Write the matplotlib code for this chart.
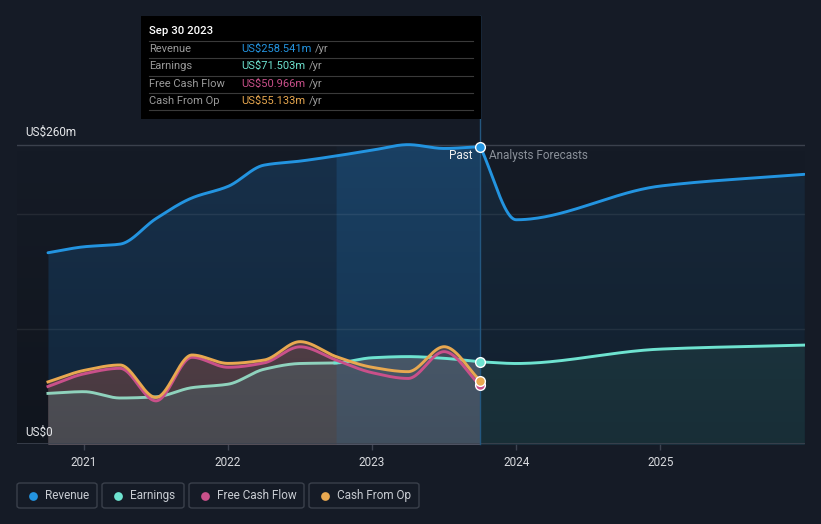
import numpy as np
import matplotlib
matplotlib.use("Agg")
import matplotlib.pyplot as plt
from matplotlib.patches import Rectangle, FancyBboxPatch
from matplotlib.lines import Line2D

plt.rcParams['font.family'] = ['Roboto', 'DejaVu Sans']

# ---------------- data ----------------
past_x = [2020.75, 2021.0, 2021.25, 2021.5, 2021.75, 2022.0, 2022.25,
          2022.5, 2022.75, 2023.0, 2023.25, 2023.5, 2023.75]
revenue_past = [166.3, 171.5, 173.8, 196.0, 214.0, 224.0, 242.5,
                246.0, 250.5, 255.5, 260.3, 257.0, 258.541]
earnings_past = [44.0, 45.5, 40.0, 41.0, 49.0, 52.0, 65.0,
                 70.0, 70.5, 75.0, 76.0, 74.5, 71.503]
fcf_past = [50.0, 61.0, 65.8, 37.5, 75.4, 66.7, 70.5,
            84.5, 73.0, 62.0, 57.0, 80.3, 50.966]
cfo_past = [54.0, 64.0, 68.7, 40.5, 77.4, 70.1, 73.0,
            89.0, 76.0, 66.7, 62.9, 84.6, 55.133]

fc_x = [2023.75, 2024.0, 2025.0, 2026.0]
revenue_fc = [258.541, 195.0, 224.3, 234.5]
earnings_fc = [71.503, 70.0, 82.5, 86.0]

year_ticks = [2021, 2022, 2023, 2024, 2025]
year_labels = ["2021", "2022", "2023", "2024", "2025"]
band_start, band_end = 2022.75, 2023.75

legend_names = ["Revenue", "Earnings", "Free Cash Flow", "Cash From Op"]
C_REV, C_EARN, C_FCF, C_CFO = "#2394e0", "#6ee3d0", "#c9508a", "#e8a850"
legend_colors = [C_REV, C_EARN, C_FCF, C_CFO]

tooltip_date = "Sep 30 2023"
tooltip_vals = ["US$258.541m", "US$71.503m", "US$50.966m", "US$55.133m"]

BG = "#151b26"


def pchip(x, y, n=60):
    x = np.asarray(x, float); y = np.asarray(y, float)
    h = np.diff(x); d = np.diff(y) / h
    m = np.zeros_like(y)
    m[0], m[-1] = d[0], d[-1]
    for k in range(1, len(x) - 1):
        if d[k - 1] * d[k] <= 0:
            m[k] = 0
        else:
            w1 = 2 * h[k] + h[k - 1]; w2 = h[k] + 2 * h[k - 1]
            m[k] = (w1 + w2) / (w1 / d[k - 1] + w2 / d[k])
    xs, ys = [], []
    for k in range(len(x) - 1):
        t = np.linspace(0, 1, n, endpoint=(k == len(x) - 2))
        h00 = 2 * t**3 - 3 * t**2 + 1; h10 = t**3 - 2 * t**2 + t
        h01 = -2 * t**3 + 3 * t**2; h11 = t**3 - t**2
        xs.append(x[k] + t * h[k])
        ys.append(h00 * y[k] + h10 * h[k] * m[k] + h01 * y[k + 1] + h11 * h[k] * m[k + 1])
    return np.concatenate(xs), np.concatenate(ys)


W, H = 821, 524
fig = plt.figure(figsize=(W / 100, H / 100), dpi=100, facecolor=BG)
ppu = (444 - 145) / 260.0
ytop = 290
ax = fig.add_axes([17 / W, 80 / H, (805 - 17) / W, ytop * ppu / H])
ax.set_facecolor(BG)
ax.set_xlim(2020.535, 2026.005)
ax.set_ylim(0, ytop)
for s in ax.spines.values():
    s.set_visible(False)

rx, ry = pchip(past_x, revenue_past)
ex, ey = pchip(past_x, earnings_past)
fx, fy = pchip(past_x, fcf_past)
cx, cy = pchip(past_x, cfo_past)
rfx, rfy = pchip(fc_x, revenue_fc)
efx, efy = pchip(fc_x, earnings_fc)

# fills
ax.fill_between(rx, 0, ry, color="#17304a", lw=0, zorder=1)
ax.fill_between(rfx, 0, rfy, color="#17283a", lw=0, zorder=1)
ax.fill_between(cx, 0, cy, color="#5e4a4f", lw=0, zorder=2)
ax.fill_between(fx, 0, fy, color="#5b4750", lw=0, zorder=2)
ax.fill_between(ex, 0, ey, color="#5d5e66", lw=0, zorder=3)
ax.fill_between(efx, 0, efy, color="#1f3b46", lw=0, zorder=3)

# highlight band (last year)
mask = (rx >= band_start) & (rx <= band_end)
ax.fill_between(rx[mask], 0, ry[mask], color="#2a90e0", alpha=0.17, lw=0, zorder=4)
ax.fill_between(rx[mask], ry[mask], 260, color="#2a90e0", alpha=0.03, lw=0, zorder=4)

# bottom shading gradient
grad = np.zeros((256, 2, 4))
grad[..., 3] = np.linspace(0.0, 0.22, 256)[:, None]
ax.imshow(grad, extent=[2020.535, 2026.005, 0, 260], aspect="auto", origin="upper",
          zorder=4.5, interpolation="bilinear")

# gridlines
ax.axhline(260, color="#3b414d", lw=1, zorder=5)
for gv in (100, 200):
    ax.axhline(gv, color="white", alpha=0.07, lw=1, zorder=5)
ax.axhline(0, color="#3d4350", lw=1.2, zorder=5)

# vertical "now" line
ax.plot([band_end, band_end], [0, (444 - 16) / ppu], color="#24577f", lw=1,
        zorder=5, clip_on=False)

# lines
lw = 2.1
ax.plot(rx, ry, color=C_REV, lw=lw, zorder=8, solid_capstyle="round")
ax.plot(rfx, rfy, color=C_REV, lw=lw, zorder=8, solid_capstyle="round")
m1 = ex <= band_start + 1e-9
ax.plot(ex[m1], ey[m1], color="#8fd2bd", lw=lw, zorder=6)
m2 = ex >= band_start - 0.01
ax.plot(ex[m2], ey[m2], color=C_EARN, lw=lw, zorder=6)
ax.plot(efx, efy, color=C_EARN, lw=lw, zorder=6)
ax.plot(fx, fy, color=C_FCF, lw=lw, zorder=7)
ax.plot(cx, cy, color=C_CFO, lw=lw, zorder=7.5)

# markers at last past point
for val, col in [(revenue_past[-1], C_REV), (earnings_past[-1], C_EARN),
                 (fcf_past[-1], C_FCF), (cfo_past[-1], C_CFO)]:
    ax.plot([past_x[-1]], [val], "o", ms=7, mfc=col, mec="white", mew=1, zorder=9)

# x ticks
ax.set_xticks(year_ticks)
ax.set_xticklabels(year_labels)
ax.tick_params(axis="x", colors="#3d4350", labelcolor="#d8dade", labelsize=8.5,
               length=4, width=1, pad=5)
ax.set_yticks([])

# y labels
fig.text(25 / W, 1 - 132 / H, "US$260m", color="#e6e8eb", fontsize=8.5, va="center", ha="left")
fig.text(25 / W, 1 - 432 / H, "US$0", color="#e6e8eb", fontsize=8.5, va="center", ha="left")

# Past / Analysts Forecasts
fig.text(472 / W, 1 - 156 / H, "Past", color="#f0f0f0", fontsize=8.5, va="center", ha="right")
fig.text(489 / W, 1 - 156 / H, "Analysts Forecasts", color="#8a9099", fontsize=8.5,
         va="center", ha="left")

# tooltip
fig.patches.append(Rectangle((141 / W, 1 - 119 / H), 340 / W, 103 / H, transform=fig.transFigure,
                             facecolor="#000000", edgecolor="none", zorder=10))
fig.text(149 / W, 1 - 31 / H, tooltip_date, color="white", fontsize=8.2, fontweight="medium",
         va="center", ha="left", zorder=11)
for yy in (41, 58, 76, 93, 110):
    fig.add_artist(Line2D([149 / W, 473 / W], [1 - yy / H, 1 - yy / H], color="#3a3a3a",
                          lw=0.8, transform=fig.transFigure, zorder=11))
row_y = [49, 66, 84, 101]
for name, val, col, yy in zip(legend_names, tooltip_vals, legend_colors, row_y):
    fig.text(149 / W, 1 - yy / H, name, color="#9a9a9a", fontsize=8, va="center", ha="left", zorder=11)
    t = fig.text(241 / W, 1 - yy / H, val, color=col, fontsize=8, va="center", ha="left", zorder=11)
    fig.canvas.draw()
    bb = t.get_window_extent()
    fig.text((bb.x1 + 4) / W, 1 - yy / H, "/yr", color="#9a9a9a", fontsize=8, va="center",
             ha="left", zorder=11)

# legend
boxes = [(17, 97), (102, 184), (189, 304), (309, 419)]
for (x0, x1), name, col in zip(boxes, legend_names, legend_colors):
    fig.patches.append(FancyBboxPatch((x0 / W, 1 - 508 / H), (x1 - x0) / W, 25 / H,
                                      boxstyle="round,pad=0,rounding_size=0.004",
                                      transform=fig.transFigure, facecolor="none",
                                      edgecolor="#3a404b", lw=1))
    fig.add_artist(Line2D([(x0 + 15.5) / W], [1 - 495.5 / H], marker="o", ms=6.3,
                          mfc=col, mec="none", ls="none", transform=fig.transFigure))
    fig.text((x0 + 28) / W, 1 - 495.5 / H, name, color="#c8ccd2", fontsize=8.5,
             va="center", ha="left")

fig.savefig("out.png", dpi=100, facecolor=BG)
